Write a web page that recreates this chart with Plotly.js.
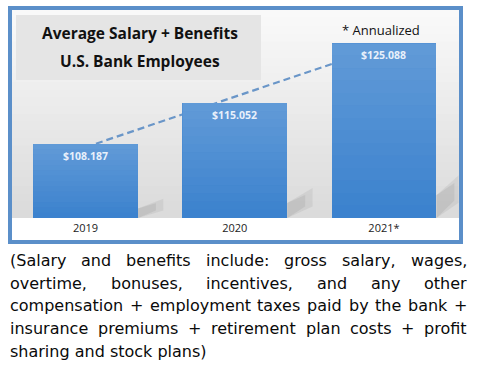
<!DOCTYPE html>
<html><head><meta charset="utf-8">
<script src="https://cdn.plot.ly/plotly-3.0.1.min.js"></script>
<style>html,body{margin:0;padding:0;background:#fff}#chart{width:483px;height:368px}</style>
</head><body><div id="chart"></div>
<script>
// ---- data ----
const categories = ['2019', '2020', '2021*'];
const values = [108.187, 115.052, 125.088];
const valueLabels = ['$108.187', '$115.052', '$125.088'];
const titleLines = ['Average Salary + Benefits', 'U.S. Bank Employees'];
const footnote = '* Annualized';
const noteLines = [
  '(Salary and benefits include: gross salary, wages,',
  'overtime, bonuses, incentives, and any other',
  'compensation + employment taxes paid by the bank +',
  'insurance premiums + retirement plan costs + profit',
  'sharing and stock plans)'
];

// ---- layout helpers ----
const W = 483, H = 368;
const px = x => x / W;
const py = y => 1 - y / H;
const yBase = 95.8, pxPerUnit = 5.97;
const plotTop = 10, plotBottom = 218;
const yRange = [yBase, yBase + (plotBottom - plotTop) / pxPerUnit];
const xDomain = [px(10.9), px(458.6)];
const yDomain = [py(plotBottom), py(plotTop)];
const barWidth = 0.703;

// linear trendline (least squares over the bars)
const n = values.length;
const xs = values.map((_, i) => i);
const mx = xs.reduce((a, b) => a + b, 0) / n;
const my = values.reduce((a, b) => a + b, 0) / n;
let sxy = 0, sxx = 0;
xs.forEach((x, i) => { sxy += (x - mx) * (values[i] - my); sxx += (x - mx) * (x - mx); });
const slope = sxy / sxx, icpt = my - slope * mx;
const trend = xs.map(x => icpt + slope * x);

const traces = [
  {type: 'scatter', mode: 'lines', x: categories, y: trend, xaxis: 'x', yaxis: 'y',
   line: {color: '#6a96c8', width: 2.2, dash: '7px,4px'}, hoverinfo: 'skip', showlegend: false},
  {type: 'bar', x: categories, y: values, xaxis: 'x2', yaxis: 'y2', width: barWidth,
   marker: {color: '#3b82ce', line: {width: 0}}, hoverinfo: 'skip', showlegend: false}
];

const shapes = [];
// background gradient bands
const bands = 26;
for (let i = 0; i < bands; i++) {
  const y0 = plotTop + (plotBottom - plotTop) * i / bands;
  const y1 = plotTop + (plotBottom - plotTop) * (i + 1) / bands;
  const c = Math.round(250 - (250 - 218) * (i + 0.5) / bands);
  shapes.push({type: 'rect', xref: 'paper', yref: 'paper', layer: 'below',
    x0: px(12), x1: px(459), y0: py(y1), y1: py(y0) + 0.0005,
    fillcolor: `rgb(${c},${c},${c})`, line: {width: 0}});
}
// title box
shapes.push({type: 'rect', xref: 'paper', yref: 'paper', layer: 'below',
  x0: px(16), x1: px(261), y0: py(80), y1: py(15), fillcolor: '#e5e5e5', line: {width: 0}});
// soft bar floor shadows
values.forEach((v, i) => {
  const h = v - yBase;
  const R = i + barWidth / 2;
  [[0.17, 0.26, 0.11], [0.12, 0.2, 0.13]].forEach(([dx, top, op]) => {
    const path = `M ${R},${yBase} L ${R},${yBase + 0.13 * h} L ${R + dx},${yBase + top * h} L ${R + dx},${yBase + 0.1 * h} Z`;
    shapes.push({type: 'path', xref: 'x', yref: 'y', layer: 'below', path: path,
      fillcolor: `rgba(110,110,110,${op})`, line: {width: 0}});
  });
});
// vertical light sheen on each bar (lighter toward the top)
const sheenBands = 14;
values.forEach((v, i) => {
  for (let k = 0; k < sheenBands; k++) {
    const f0 = k / sheenBands, f1 = (k + 1) / sheenBands;
    shapes.push({type: 'rect', xref: 'x2', yref: 'y2', layer: 'above',
      x0: i - barWidth / 2, x1: i + barWidth / 2,
      y0: yBase + (v - yBase) * f0, y1: yBase + (v - yBase) * f1,
      fillcolor: `rgba(255,255,255,${(0.2 * (f0 + f1) / 2).toFixed(3)})`, line: {width: 0}});
  }
});
// blue frame
shapes.push({type: 'rect', xref: 'paper', yref: 'paper', layer: 'above',
  x0: px(10), x1: px(461), y0: py(242), y1: py(8), line: {color: '#5b8fc9', width: 4}});

const annotations = [];
annotations.push({xref: 'paper', yref: 'paper', x: px(140), y: py(32.6), xanchor: 'center', yanchor: 'middle',
  text: titleLines[0], showarrow: false, font: {family: 'Open Sans', size: 15.5, color: '#111', weight: 'bold'}});
annotations.push({xref: 'paper', yref: 'paper', x: px(140), y: py(61.0), xanchor: 'center', yanchor: 'middle',
  text: titleLines[1], showarrow: false, font: {family: 'Open Sans', size: 15.5, color: '#111', weight: 'bold'}});
annotations.push({xref: 'paper', yref: 'paper', x: px(381), y: py(30), xanchor: 'center', yanchor: 'middle',
  text: footnote, showarrow: false, font: {family: 'Open Sans', size: 13, color: '#111'}});
categories.forEach((c, i) => {
  annotations.push({xref: 'x2', yref: 'y2', x: i, y: values[i], yshift: -12, xanchor: 'center', yanchor: 'middle',
    text: valueLabels[i], showarrow: false, font: {family: 'Open Sans', size: 10.5, color: '#e8f0fb', weight: 'bold'}});
});

// justified note paragraph
const ctx = document.createElement('canvas').getContext('2d');
ctx.font = '16px "DejaVu Sans"';
const leftX = 10, rightX = 467;
const baselines = [266, 288.65, 311.3, 333.95, 356.6];
noteLines.forEach((line, li) => {
  const yC = baselines[li] - 5.5;
  if (li === noteLines.length - 1) {
    annotations.push({xref: 'paper', yref: 'paper', x: px(leftX), y: py(yC), xanchor: 'left', yanchor: 'middle',
      text: line, showarrow: false, borderpad: 0, borderwidth: 0,
      font: {family: 'DejaVu Sans', size: 16, color: '#0a0a0a'}});
    return;
  }
  const words = line.split(' ');
  const widths = words.map(w => ctx.measureText(w).width);
  const total = widths.reduce((a, b) => a + b, 0);
  const gap = (rightX - leftX - total) / (words.length - 1);
  let x = leftX;
  words.forEach((w, wi) => {
    annotations.push({xref: 'paper', yref: 'paper', x: px(x), y: py(yC), xanchor: 'left', yanchor: 'middle',
      text: w, showarrow: false, borderpad: 0, borderwidth: 0,
      font: {family: 'DejaVu Sans', size: 16, color: '#0a0a0a'}});
    x += widths[wi] + gap;
  });
});

const layout = {
  width: W, height: H,
  margin: {l: 0, r: 0, t: 0, b: 0, pad: 0},
  paper_bgcolor: '#ffffff', plot_bgcolor: 'rgba(0,0,0,0)',
  showlegend: false, bargap: 0,
  xaxis: {domain: xDomain, type: 'category', range: [-0.5, 2.5], showgrid: false, zeroline: false, showline: false,
    ticks: '', ticklabelstandoff: 2, tickfont: {family: 'Open Sans', size: 11, color: '#222'}, fixedrange: true},
  yaxis: {domain: yDomain, range: yRange, visible: false, fixedrange: true},
  xaxis2: {domain: xDomain, type: 'category', range: [-0.5, 2.5], overlaying: 'x', anchor: 'y2',
    showticklabels: false, showgrid: false, zeroline: false, showline: false, ticks: '', fixedrange: true},
  yaxis2: {domain: yDomain, range: yRange, overlaying: 'y', anchor: 'x2', visible: false, fixedrange: true},
  shapes: shapes,
  annotations: annotations
};

Plotly.newPlot('chart', traces, layout, {staticPlot: true, displayModeBar: false});
</script>
</body></html>
